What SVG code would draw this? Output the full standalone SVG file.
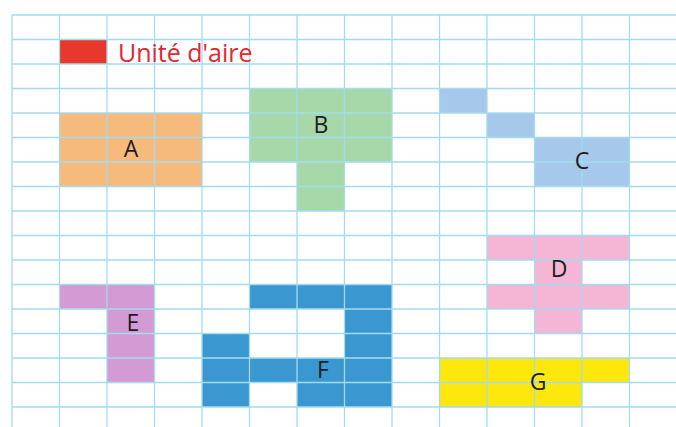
<svg xmlns="http://www.w3.org/2000/svg" width="676" height="427" viewBox="0 0 676 427">
<defs>
<style>
.g{stroke:#a3dbef;stroke-width:1.3;fill:none}
.lbl{font-family:"Open Sans","Liberation Sans",sans-serif;font-size:23px;fill:#1e1e1e;text-anchor:middle}
.A{fill:#f5ba7c}.B{fill:#a7d8a9}.C{fill:#a6c8ea}.D{fill:#f5b5d5}.E{fill:#d49ad4}.F{fill:#3b97d0}.G{fill:#fde70c}
</style>
</defs>
<rect width="676" height="427" fill="#ffffff"/>
<g id="unite-cell">
<rect x="59.5" y="39.5" width="47.5" height="24.5" fill="#e8382b"/>
</g>
<g id="A">
<rect class="A" x="59.5" y="113" width="142.5" height="73.5"/>
</g>
<g id="B">
<rect class="B" x="249.5" y="88.5" width="142.5" height="73.5"/>
<rect class="B" x="297" y="162" width="47.5" height="49"/>
</g>
<g id="C">
<rect class="C" x="439.5" y="88.5" width="47.5" height="24.5"/>
<rect class="C" x="487" y="113" width="47.5" height="24.5"/>
<rect class="C" x="534.5" y="137.5" width="95" height="49"/>
</g>
<g id="D">
<rect class="D" x="487" y="235.5" width="142.5" height="24.5"/>
<rect class="D" x="534.5" y="260" width="47.5" height="24.5"/>
<rect class="D" x="487" y="284.5" width="142.5" height="24.5"/>
<rect class="D" x="534.5" y="309" width="47.5" height="24.5"/>
</g>
<g id="E">
<rect class="E" x="59.5" y="284.5" width="95" height="24.5"/>
<rect class="E" x="107" y="309" width="47.5" height="73.5"/>
</g>
<g id="F">
<rect class="F" x="249.5" y="284.5" width="142.5" height="24.5"/>
<rect class="F" x="344.5" y="309" width="47.5" height="49"/>
<rect class="F" x="202" y="333.5" width="47.5" height="73.5"/>
<rect class="F" x="249.5" y="358" width="142.5" height="24.5"/>
<rect class="F" x="297" y="382.5" width="95" height="24.5"/>
</g>
<g id="G">
<rect class="G" x="439.5" y="358" width="190" height="24.5"/>
<rect class="G" x="439.5" y="382.5" width="142.5" height="24.5"/>
</g>
<g id="grid" class="g">
<path d="M12 15V427M59.5 15V427M107 15V427M154.5 15V427M202 15V427M249.5 15V427M297 15V427M344.5 15V427M392 15V427M439.5 15V427M487 15V427M534.5 15V427M582 15V427M629.5 15V427"/>
<path d="M12 15H676M12 39.5H676M12 64H676M12 88.5H676M12 113H676M12 137.5H676M12 162H676M12 186.5H676M12 211H676M12 235.5H676M12 260H676M12 284.5H676M12 309H676M12 333.5H676M12 358H676M12 382.5H676M12 407H676"/>
</g>
<g id="labels">
<text x="118" y="62" font-family="'Open Sans','Liberation Sans',sans-serif" font-size="25" fill="#e4262f">Unité d'aire</text>
<text class="lbl" x="131" y="157">A</text>
<text class="lbl" x="321" y="133">B</text>
<text class="lbl" x="582" y="169">C</text>
<text class="lbl" x="559" y="277">D</text>
<text class="lbl" x="133" y="331">E</text>
<text class="lbl" x="323" y="378">F</text>
<text class="lbl" x="538" y="390">G</text>
</g>
</svg>
